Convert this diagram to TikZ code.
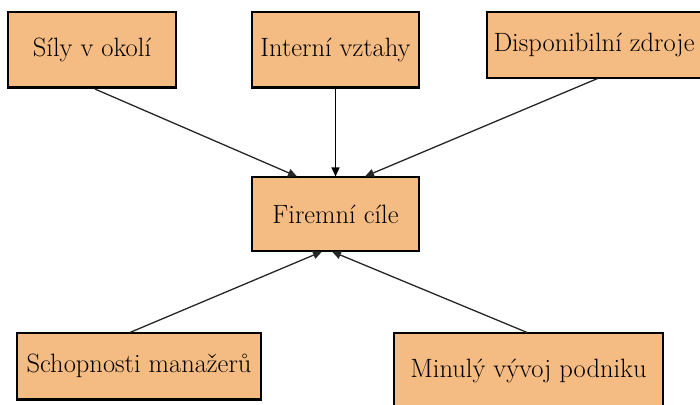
\documentclass[tikz,border=0pt]{standalone}
\usetikzlibrary{arrows.meta}
\definecolor{boxfill}{RGB}{244,188,131}
\tikzset{
  box/.style={draw=black, line width=1.1pt, fill=boxfill, inner sep=0pt,
    font=\fontsize{26.5}{30}\selectfont},
  link/.style={draw=black!85, line width=1.3pt,
    -{Triangle[length=9pt,width=8pt]}},
  shadowedge/.style={line width=3pt, draw=black}
}
\begin{document}
\begin{tikzpicture}[x=1pt,y=-1pt]
  \useasboundingbox (0,0) rectangle (700,404);
  \clip (0,0) rectangle (700,404);

  % goal and its influences
  \node[box, minimum width=168pt, minimum height=75pt] (sily) at (92,49.5) {Síly v okolí};
  \node[box, minimum width=167pt, minimum height=75pt] (vztahy) at (335.5,49.5) {Interní vztahy};
  \node[box, minimum width=214pt, minimum height=66pt] (zdroje) at (594,45) {Disponibilní zdroje};
  \node[box, minimum width=167pt, minimum height=74pt] (cile) at (335.5,214) {Firemní cíle};
  \node[box, minimum width=244pt, minimum height=66pt] (schop) at (139,366) {Schopnosti manažerů};
  \node[box, minimum width=269pt, minimum height=76pt] (vyvoj) at (528.5,371) {Minulý vývoj podniku};

  % heavier bottom edges
  \draw[shadowedge] (sily.south west) -- (sily.south east);
  \draw[shadowedge] (vztahy.south west) -- (vztahy.south east);
  \draw[shadowedge] (schop.south west) -- (schop.south east);

  % arrows into the goal
  \draw[link] ([xshift=3pt,yshift=-1.5pt]sily.south) -- ([xshift=-38.5pt]cile.north);
  \draw[link, draw=black] ([yshift=-1.5pt]vztahy.south) -- (cile.north);
  \draw[link] ([xshift=3.5pt]zdroje.south) -- ([xshift=29.5pt]cile.north);
  \draw[link] ([xshift=-9pt]schop.north) -- ([xshift=-13.5pt]cile.south);
  \draw[link] ([xshift=-1.5pt]vyvoj.north) -- ([xshift=-3.5pt]cile.south);
\end{tikzpicture}
\end{document}
